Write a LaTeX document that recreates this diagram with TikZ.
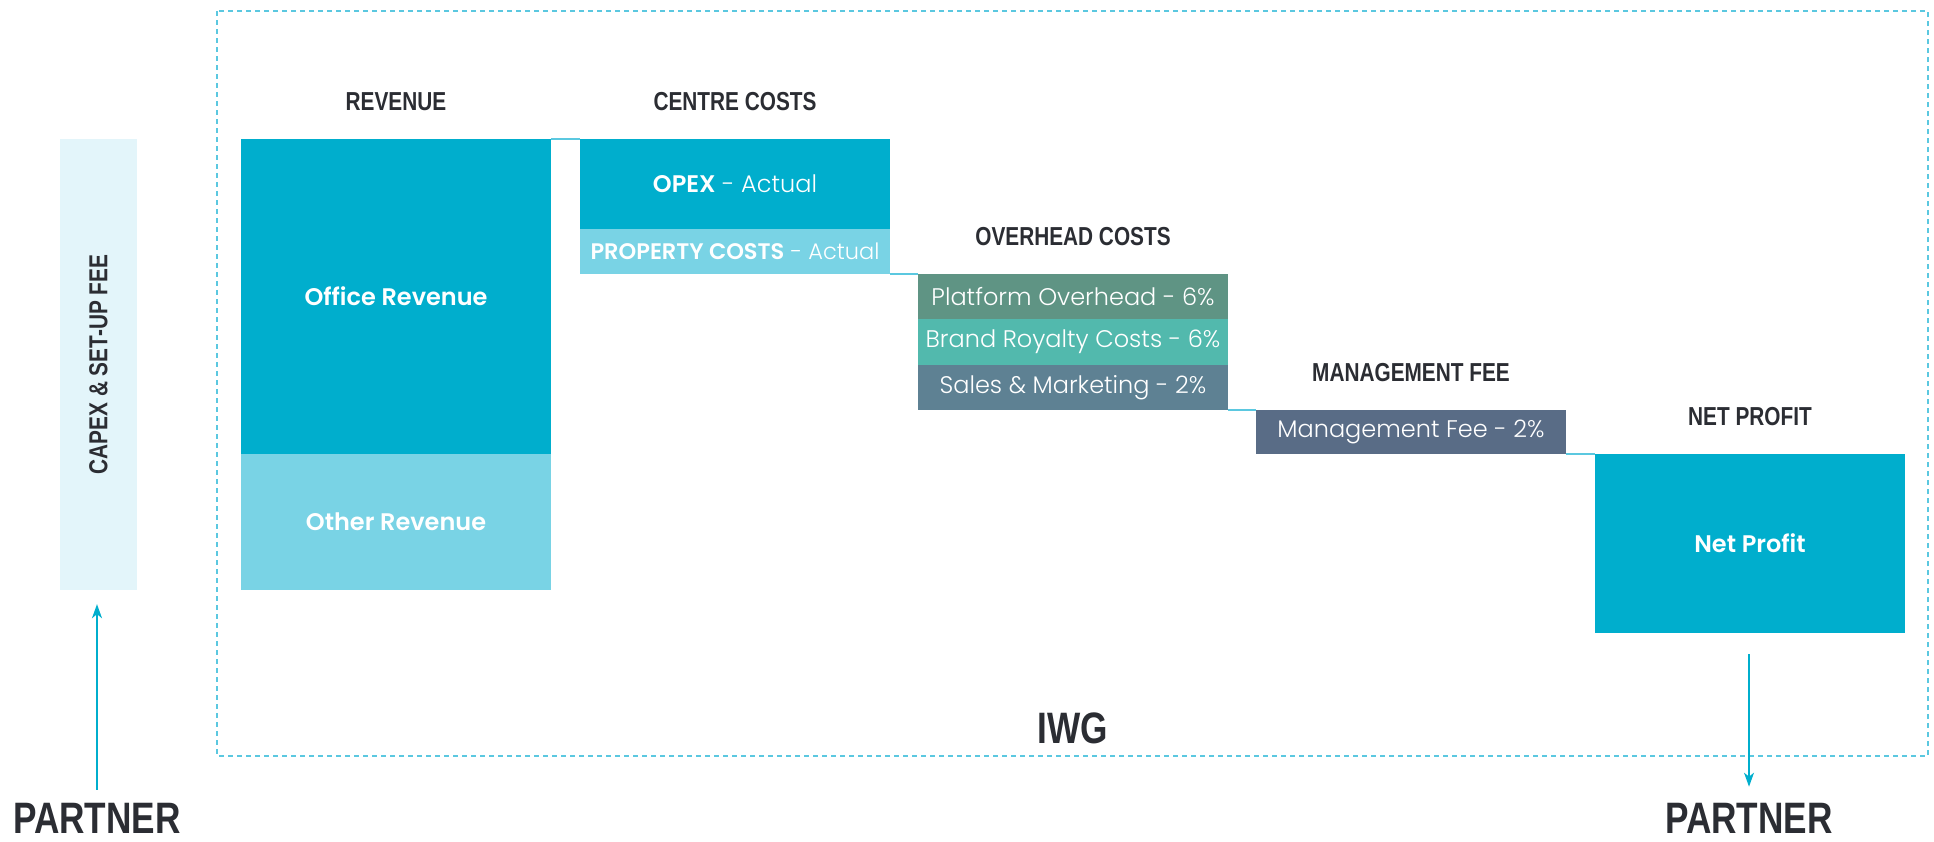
\documentclass[tikz,border=0pt]{standalone}
\usepackage{fontspec}
\setmainfont{Poppins}[UprightFont=* Light, BoldFont=* SemiBold]
\newfontfamily\headfont[FakeStretch=0.8]{Liberation Sans}
\usepackage{xcolor}
\usetikzlibrary{arrows.meta, positioning}

\definecolor{iwgblue}{HTML}{00AECD}
\definecolor{iwglight}{HTML}{79D3E5}
\definecolor{iwgpale}{HTML}{E3F5FA}
\definecolor{iwgline}{HTML}{5BC8E0}
\definecolor{platformcol}{HTML}{5F9484}
\definecolor{brandcol}{HTML}{52B9AD}
\definecolor{salescol}{HTML}{5E8193}
\definecolor{mgmtcol}{HTML}{596C86}
\definecolor{ink}{HTML}{2B2D33}

\tikzset{
	bar/.style={rectangle, inner sep=0pt, outer sep=0pt, text=white, minimum width=310pt,
		font=\fontsize{24}{28}\selectfont},
	heading/.style={text=ink, inner sep=0pt, font=\headfont\bfseries\fontsize{26}{30}\selectfont},
	bigword/.style={text=ink, inner sep=0pt, font=\headfont\bfseries\fontsize{44}{52}\selectfont},
	link/.style={iwgline, line width=1.5pt},
	flow/.style={iwgblue, line width=1.5pt, -{Stealth[length=14pt, width=10pt, inset=4pt]}}
}

\begin{document}
\begin{tikzpicture}[x=1pt, y=-1pt]
			\useasboundingbox (0,0) rectangle (1934,841);

			\def\gap{28pt};

			% IWG frame
			\draw[iwgline, line width=1.5pt, dash pattern=on 5pt off 4pt] (217,11) rectangle (1928,756);
			\node[bigword] (iwg) at (1073,728) {IWG};

			% partner side
			\node[heading, fill=iwgpale, rotate=90, minimum width=451pt, minimum height=77pt] (capex) at (98.5,364.5) {CAPEX \& SET-UP FEE};
			\node[bigword] (partnerin) at (97,818) {PARTNER};
			\node[bigword] (partnerout) at (1749,818) {PARTNER};

			% revenue
			\node[bar, fill=iwgblue, minimum height=315pt, anchor=north west] (office) at (241,139) {\textbf{Office Revenue}};
			\node[bar, fill=iwglight, minimum height=136pt, below=0pt of office] (other) {\textbf{Other Revenue}};
			\node[heading, above=\gap of office] (revhead) {REVENUE};

			% centre costs
			\node[bar, fill=iwgblue, minimum height=90pt, anchor=north west] (opex) at (580,139) {\textbf{OPEX} - Actual};
			\node[bar, fill=iwglight, minimum height=45pt, below=0pt of opex, font=\fontsize{22.5}{26}\selectfont] (property) {\textbf{PROPERTY COSTS} - Actual};
			\node[heading, above=\gap of opex] (centrehead) {CENTRE COSTS};

			% overhead costs
			\node[bar, fill=platformcol, minimum height=45pt, anchor=north west] (platform) at (918,274) {Platform Overhead - 6\%};
			\node[bar, fill=brandcol, minimum height=46pt, below=0pt of platform] (brand) {Brand Royalty Costs - 6\%};
			\node[bar, fill=salescol, minimum height=45pt, below=0pt of brand] (sales) {Sales \& Marketing - 2\%};
			\node[heading, above=\gap of platform] (overhead) {OVERHEAD COSTS};

			% management fee
			\node[bar, fill=mgmtcol, minimum height=44pt, anchor=north west] (mgmt) at (1256,410) {Management Fee - 2\%};
			\node[heading, above=\gap of mgmt] (mgmthead) {MANAGEMENT FEE};

			% net profit
			\node[bar, fill=iwgblue, minimum height=179pt, anchor=north west] (net) at (1595,454) {\textbf{Net Profit}};
			\node[heading, above=\gap of net] (nethead) {NET PROFIT};

			% steps between the columns
			\draw[link] (office.north east) -- (opex.north west);
			\draw[link] (property.south east) -- (platform.north west);
			\draw[link] (sales.south east) -- (mgmt.north west);
			\draw[link] (mgmt.south east) -- (net.north west);

			% money in and out
			\draw[flow, shorten <=13pt, shorten >=14pt] (partnerin.north) -- (partnerin.north |- capex.west);
			\draw[flow, shorten <=21pt, shorten >=16pt] (partnerout.north |- net.south) -- (partnerout.north);
		\end{tikzpicture}
\end{document}
